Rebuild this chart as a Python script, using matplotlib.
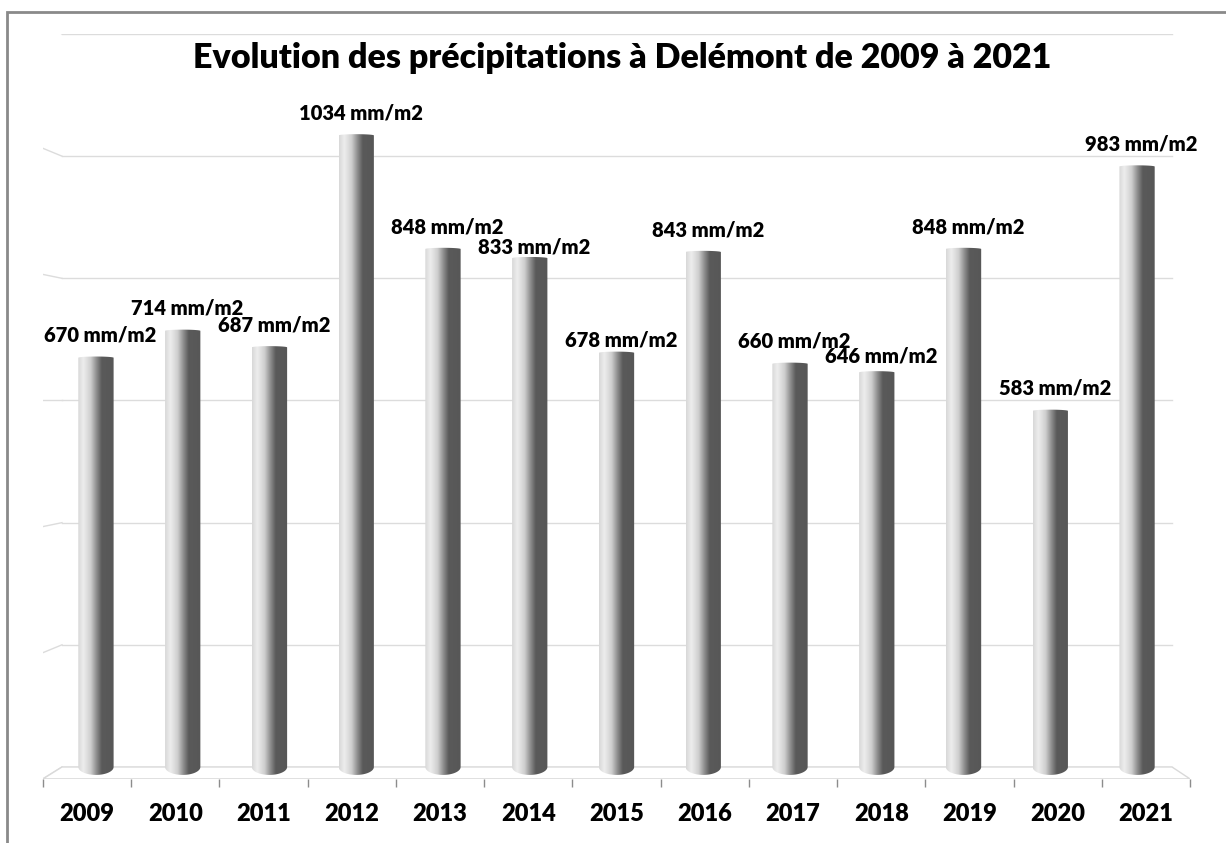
import numpy as np
import matplotlib
matplotlib.use("Agg")
import matplotlib.pyplot as plt
from matplotlib.colors import LinearSegmentedColormap
from matplotlib.patches import PathPatch, Polygon, Rectangle
from matplotlib.path import Path

years = ["2009", "2010", "2011", "2012", "2013", "2014", "2015",
         "2016", "2017", "2018", "2019", "2020", "2021"]
precip = [670, 714, 687, 1034, 848, 833, 678, 843, 660, 646, 848, 583, 983]
unit = "mm/m2"
title = "Evolution des précipitations à Delémont de 2009 à 2021"

plt.rcParams["font.family"] = ["Lato", "DejaVu Sans"]

fig = plt.figure(figsize=(12.26, 8.43), dpi=100)
ax = fig.add_axes([43/1226, (843-779.2)/843, 1147/1226, (779.2-34)/843])

# gradient for the cylinders (light on the left, dark on the right)
cmap = LinearSegmentedColormap.from_list("cyl", [
    (0.0, "#d8d8d8"), (0.15, "#ededed"), (0.35, "#cfcfcf"),
    (0.52, "#8c8c8c"), (0.66, "#5a5a5a"), (1.0, "#575757")])
grad = np.linspace(0, 1, 256).reshape(1, -1)

# back wall grid with perspective stubs on the left
x_back_l = -0.5 + 19/88.23
x_back_r = 12.5 - 18/88.23
for g in range(0, 1201, 200):
    ax.plot([x_back_l, x_back_r], [g, g], color="#dcdcdc", lw=1, zorder=1)
    ax.plot([-0.5, x_back_l], [g + (g-600)*0.032, g], color="#dcdcdc", lw=1, zorder=1)

# floor
floor = Polygon([(-0.5, -19.5), (12.5, -19.5), (x_back_r, 0), (x_back_l, 0)],
                closed=True, facecolor="white", edgecolor="#d9d9d9", lw=1, zorder=1)
ax.add_patch(floor)

# label gap above the bar (data units); excel squeezed a few of them
gap = {i: 26 for i in range(len(years))}
gap[5] = 7
gap[6] = 11
gap[9] = 16

w = 0.40
b_bot = 13
b_top = 2
t = np.linspace(0, np.pi, 40)
for i, v in enumerate(precip):
    cx = 6 + (i-6)*0.9833
    xs_bot = cx - w/2*np.cos(t)
    ys_bot = -b_bot*np.sin(t)
    xs_top = cx + w/2*np.cos(t)
    ys_top = v + b_top*np.sin(t)
    verts = np.concatenate([np.column_stack([xs_bot, ys_bot]),
                            np.column_stack([xs_top, ys_top]),
                            [[xs_bot[0], ys_bot[0]]]])
    codes = [Path.MOVETO] + [Path.LINETO]*(len(verts)-2) + [Path.CLOSEPOLY]
    clip = PathPatch(Path(verts, codes), transform=ax.transData,
                     facecolor="none", edgecolor="none")
    ax.add_patch(clip)
    im = ax.imshow(grad, cmap=cmap, aspect="auto", interpolation="bilinear",
                   extent=(cx-w/2, cx+w/2, -b_bot, v+b_top), zorder=3)
    im.set_clip_path(clip)
    ax.text(cx + 0.05, v + gap[i], f"{v} {unit}", ha="center", va="baseline",
            fontsize=14.5, fontweight="heavy", color="black", zorder=4)

ax.set_xlim(-0.5, 12.5)
ax.set_ylim(-20, 1200)

for s in ax.spines.values():
    s.set_visible(False)
ax.set_yticks([])
ax.set_xticks(range(len(years)))
ax.set_xticklabels(years, fontsize=17, fontweight="heavy")
ax.set_xticks(np.arange(-0.5, 13, 1), minor=True)
ax.tick_params(axis="x", which="major", length=0, pad=17)
ax.tick_params(axis="x", which="minor", length=6, color="#8c8c8c", width=1)

fig.text(622/1226, 1 - 58/843, title, ha="center", va="center",
         fontsize=24.5, fontweight="heavy", color="black")

# chart border (cut by the image edge on the right and bottom)
fig.patches.append(Rectangle((7/1226, -0.1), 1.2, 1 - 12/843 + 0.1,
                             transform=fig.transFigure, fill=False,
                             edgecolor="#8a8a8a", lw=2))

fig.savefig("out.png", dpi=100)
